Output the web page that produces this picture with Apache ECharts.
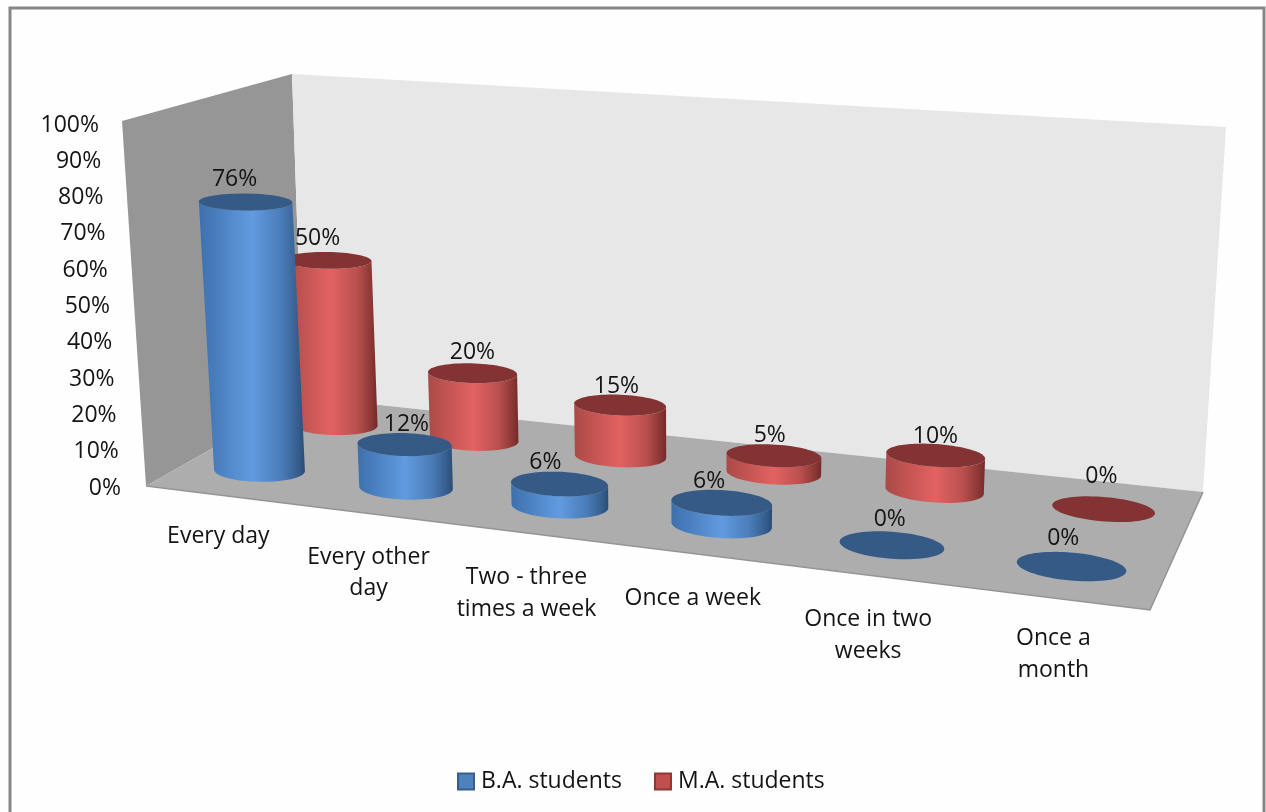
<!DOCTYPE html>
<html>
<head>
<meta charset="utf-8">
<style>html,body{margin:0;padding:0;background:#fff}#c{width:1266px;height:812px}</style>
<script src="https://cdn.jsdelivr.net/npm/echarts@6/dist/echarts.min.js"></script>
</head>
<body>
<div id="c"></div>
<script>
// ---- data ----
const categories = ['Every day','Every other\nday','Two - three\ntimes a week','Once a week','Once in two\nweeks','Once a\nmonth'];
const baValues = [76,12,6,6,0,0];
const maValues = [50,20,15,5,10,0];
const seriesNames = ['B.A. students','M.A. students'];

// ---- label nudges (px), not data ----
const baLabelDx = [-11,2,-14,-12.5,-2,-8];
const maLabelDx = [-10,0,-3.5,-4,0,-2];
const baLabelDy = [-22,-20,-21,-21,-26,-28];
const maLabelDy = [-22,-21,-19,-20,-19,-33];
const categoryDy = [26,28,29,29,29,25];

// ---- perspective of the 3D box ----
const FL=[146,486], FR=[1150,610], BR=[1203,492], BL=[303,397];
const VP=[685,8690];
const FONT='"Open Sans"';
const FS=23;
const TXT='#141414';

function makeHomography(p0,p1,p2,p3){
  const dx1=p1[0]-p2[0],dx2=p3[0]-p2[0],sx=p0[0]-p1[0]+p2[0]-p3[0];
  const dy1=p1[1]-p2[1],dy2=p3[1]-p2[1],sy=p0[1]-p1[1]+p2[1]-p3[1];
  const det=dx1*dy2-dx2*dy1;
  const g=(sx*dy2-dx2*sy)/det,h=(dx1*sy-sx*dy1)/det;
  const a=p1[0]-p0[0]+g*p1[0],b=p3[0]-p0[0]+h*p3[0],c=p0[0];
  const d=p1[1]-p0[1]+g*p1[1],e=p3[1]-p0[1]+h*p3[1],f=p0[1];
  return (u,v)=>{const w=g*u+h*v+1;return [(a*u+b*v+c)/w,(d*u+e*v+f)/w];};
}
const floor=makeHomography(FL,FR,BR,BL);
const RU=0.049,RV=0.108,N=72;
const AXIS_PX=363;

function percentScale(u,v){ return (362+35*u-48*v)/AXIS_PX; }

const palette={
  ba:{top:'#355a86',legend:'#4f81bd',legendB:'#385d8a',
      stops:[[0,'#3d70ad'],[0.5,'#619bdf'],[0.78,'#4a7cb8'],[0.93,'#365f90'],[1,'#2a4c75']]},
  ma:{top:'#833333',legend:'#c0504d',legendB:'#8c3836',
      stops:[[0,'#ab4a47'],[0.5,'#e26261'],[0.78,'#b9504e'],[0.93,'#8c3836'],[1,'#712b2a']]}
};

function makeCylinderRender(pal,v0,dxs,dys){
  return function(params,api){
    const i=api.value(0),val=api.value(1);
    const u0=(i+0.5)/categories.length;
    const c=floor(u0,v0);
    const axisH=api.coord([i,0])[1]-api.coord([i,val])[1];
    const h=axisH*percentScale(u0,v0);
    const lean=(VP[0]-c[0])/(VP[1]-c[1])*(-h);
    const flat=1-0.35*val/100, widen=1+0.04*val/100;
    const tc=[c[0]+lean,c[1]-h];
    const base=[],top=[];
    for(let k=0;k<N;k++){
      const t=k/N*Math.PI*2;
      const p=floor(u0+RU*Math.cos(t),v0+RV*Math.sin(t));
      base.push(p);
      top.push([tc[0]+(p[0]-c[0])*widen,tc[1]+(p[1]-c[1])*flat]);
    }
    const children=[];
    if(val>0){
      const frontArc=(pts)=>{
        let iL=0,iR=0;
        pts.forEach((p,k)=>{if(p[0]<pts[iL][0])iL=k;if(p[0]>pts[iR][0])iR=k;});
        const walk=(a,b)=>{const o=[];let k=a;while(true){o.push(pts[k]);if(k===b)break;k=(k+1)%N;}return o;};
        const a1=walk(iL,iR),a2=walk(iR,iL).reverse();
        const my=a=>a.reduce((s,p)=>s+p[1],0)/a.length;
        return my(a1)>my(a2)?a1:a2;
      };
      const poly=frontArc(base).concat(frontArc(top).reverse());
      children.push({type:'polygon',shape:{points:poly},
        style:{fill:new echarts.graphic.LinearGradient(0,0,1,0,pal.stops.map(s=>({offset:s[0],color:s[1]})))}});
    }
    children.push({type:'polygon',shape:{points:top},style:{fill:pal.top}});
    children.push({type:'text',style:{text:val+'%',x:tc[0]+dxs[i],y:tc[1]+dys[i],align:'center',verticalAlign:'middle',
      fontFamily:FONT,fontSize:FS,fill:TXT}});
    return {type:'group',children};
  };
}

function renderCategoryLabel(params,api){
  const i=api.value(0);
  const p=floor((i+0.5)/categories.length,0);
  return {type:'text',style:{text:categories[i],x:p[0],y:p[1]+categoryDy[i],align:'center',verticalAlign:'top',
    fontFamily:FONT,fontSize:FS,lineHeight:31.5,fill:TXT}};
}

const yRich={};
for(let t=0;t<=100;t+=10){
  yRich['t'+t]={padding:[0,22*t/100,0,0],fontFamily:FONT,fontSize:FS,color:TXT};
}

const chart=echarts.init(document.getElementById('c'),null,{renderer:'canvas'});
chart.setOption({
  animation:false,
  backgroundColor:'#fefefe',
  grid:{left:125,top:125,width:1000,height:AXIS_PX},
  xAxis:{type:'category',data:categories.map(s=>s.replace('\n',' ')),show:false},
  yAxis:{type:'value',min:0,max:100,interval:10,
    axisLine:{show:false},axisTick:{show:false},splitLine:{show:false},
    axisLabel:{margin:4,formatter:v=>'{t'+v+'|'+v+'%}',rich:yRich}},
  legend:{left:457,top:770,padding:0,itemWidth:16,itemHeight:16,itemGap:32,icon:'rect',
    textStyle:{fontFamily:FONT,fontSize:FS,color:TXT,padding:[0,0,0,2]},
    data:[
      {name:seriesNames[0],itemStyle:{color:palette.ba.legend,borderColor:palette.ba.legendB,borderWidth:2}},
      {name:seriesNames[1],itemStyle:{color:palette.ma.legend,borderColor:palette.ma.legendB,borderWidth:2}}
    ]},
  graphic:[
    {type:'rect',z:0,shape:{x:10,y:8,width:1254,height:900},style:{fill:'#fefefe',stroke:'#868686',lineWidth:3}},
    {type:'polygon',z:1,shape:{points:[[122,121],[292,74],BL,FL]},style:{fill:'#969696'}},
    {type:'polygon',z:1,shape:{points:[[292,74],[1226,127],BR,BL]},style:{fill:'#e7e7e7'}},
    {type:'polygon',z:1,shape:{points:[FL,FR,BR,BL]},style:{fill:'#adadad'}},
    {type:'polyline',z:1,shape:{points:[FL,FR,BR]},style:{fill:'none',stroke:'#949494',lineWidth:1.5}}
  ],
  series:[
    {type:'custom',name:seriesNames[1],itemStyle:{color:palette.ma.legend},
     renderItem:makeCylinderRender(palette.ma,0.75,maLabelDx,maLabelDy),
     encode:{x:0,y:1},data:maValues.map((v,i)=>[i,v])},
    {type:'custom',name:seriesNames[0],itemStyle:{color:palette.ba.legend},
     renderItem:makeCylinderRender(palette.ba,0.25,baLabelDx,baLabelDy),
     encode:{x:0,y:1},data:baValues.map((v,i)=>[i,v])},
    {type:'custom',name:'categories',silent:true,renderItem:renderCategoryLabel,
     encode:{x:0,y:1},data:categories.map((c,i)=>[i,0])}
  ]
});
</script>
</body>
</html>
